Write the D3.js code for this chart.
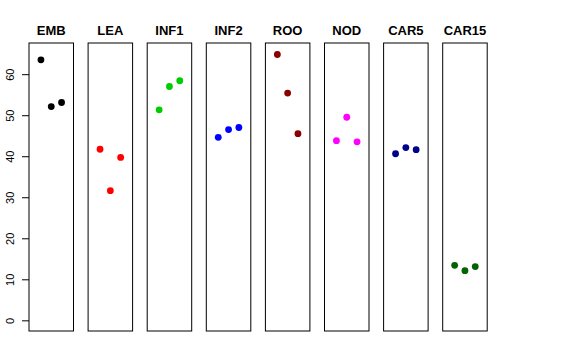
<!DOCTYPE html>
<html><head><meta charset="utf-8">
<script src="https://cdn.jsdelivr.net/npm/d3@7"></script>
<style>body{margin:0;background:#fff}svg{display:block}</style>
</head><body>
<script>
const categories = ["EMB","LEA","INF1","INF2","ROO","NOD","CAR5","CAR15"];
const colors = ["#000000","#FF0000","#00CD00","#0000FF","#8B0000","#FF00FF","#00008B","#006400"];
const values = [
  [63.5, 52.1, 53.1],
  [41.7, 31.6, 39.7],
  [51.3, 57.0, 58.4],
  [44.6, 46.5, 47.0],
  [64.8, 55.4, 45.5],
  [43.8, 49.5, 43.5],
  [40.6, 42.1, 41.6],
  [13.4, 12.1, 13.1]
];
const yTicks = [0,10,20,30,40,50,60];

const W = 576, H = 360;
const svg = d3.select("body").append("svg").attr("width", W).attr("height", H);
const plotTop = 43, plotBottom = 331;
const y = d3.scaleLinear().domain([-2.6, 67.6]).range([plotBottom, plotTop]);
const panel = d3.scaleBand().domain(categories).range([29, 29 + 59.1*8]).paddingInner(0).paddingOuter(0);
const pw = 44.5;

categories.forEach((c, i) => {
  const x0 = panel(c);
  const g = svg.append("g");
  const x = d3.scaleLinear().domain([-0.16, 4.16]).range([x0, x0 + pw]);
  g.append("rect").attr("x", x0).attr("y", plotTop).attr("width", pw).attr("height", plotBottom - plotTop)
    .attr("fill", "none").attr("stroke", "#000").attr("stroke-width", 1);
  g.selectAll("circle").data(values[i]).enter().append("circle")
    .attr("cx", (d, j) => x(j + 1)).attr("cy", d => y(d)).attr("r", 3.4)
    .attr("fill", colors[i]);
  g.append("text").attr("x", x0 + pw/2).attr("y", 35).attr("text-anchor", "middle")
    .attr("font-family", "Liberation Sans, Arial, sans-serif").attr("font-weight", "bold")
    .attr("font-size", 13).text(c);
});

const axis = d3.axisLeft(y).tickValues(yTicks).tickSize(7).tickPadding(5);
const ag = svg.append("g").attr("transform", "translate(29,0)").call(axis);
ag.select(".domain").remove();
ag.selectAll("line").attr("stroke", "#000");
ag.selectAll("text").attr("font-family", "Liberation Sans, Arial, sans-serif").attr("font-size", 11)
  .attr("fill", "#000").attr("text-anchor", "middle").attr("dy", null)
  .attr("x", 0).attr("y", 0)
  .attr("transform", "translate(-15,0) rotate(-90)");
</script>
</body></html>
